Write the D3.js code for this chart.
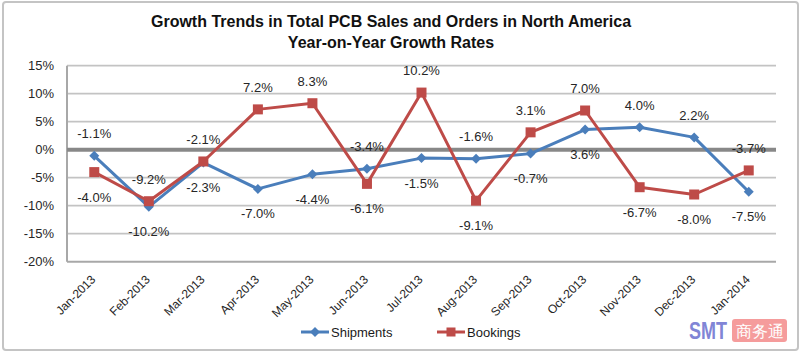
<!DOCTYPE html>
<html>
<head>
<meta charset="utf-8">
<script src="https://cdn.jsdelivr.net/npm/d3@7"></script>
<style>
  html, body { margin: 0; padding: 0; background: #fff; }
  svg { display: block; }
  text { font-family: Arial, "Liberation Sans", sans-serif; }
</style>
</head>
<body>
<svg id="chart" width="800" height="354"></svg>
<script>
// ---------- data ----------
const months = ["Jan-2013","Feb-2013","Mar-2013","Apr-2013","May-2013","Jun-2013","Jul-2013",
                "Aug-2013","Sep-2013","Oct-2013","Nov-2013","Dec-2013","Jan-2014"];
const shipments = [-1.1, -10.2, -2.3, -7.0, -4.4, -3.4, -1.5, -1.6, -0.7, 3.6, 4.0, 2.2, -7.5];
const bookings  = [-4.0, -9.2, -2.1, 7.2, 8.3, -6.1, 10.2, -9.1, 3.1, 7.0, -6.7, -8.0, -3.7];
const yTicks = [15, 10, 5, 0, -5, -10, -15, -20];
const titleLines = ["Growth Trends in Total PCB Sales and Orders in North America", "Year-on-Year Growth Rates"];
const seriesNames = ["Shipments", "Bookings"];

// ---------- layout ----------
const W = 800, H = 354;
const plot = { left: 67, right: 776, top: 65.7, bottom: 261.7 };
const colors = { Shipments: "#4a7ebb", Bookings: "#be4b48" };

const svg = d3.select("#chart");

// outer border
svg.append("rect")
  .attr("x", 3).attr("y", 2).attr("width", 795).attr("height", 348)
  .attr("rx", 3).attr("fill", "#fff").attr("stroke", "#c4c4c4").attr("stroke-width", 2);

// title
svg.append("g").selectAll("text").data(titleLines).join("text")
  .attr("x", 391).attr("y", (d, i) => 27 + i * 21)
  .attr("text-anchor", "middle")
  .attr("font-size", 16).attr("font-weight", "bold").attr("fill", "#111")
  .text(d => d);

// scales
const x = d3.scaleBand().domain(months).range([plot.left, plot.right]).padding(0);
const y = d3.scaleLinear().domain([-20, 15]).range([plot.bottom, plot.top]);
const cx = m => x(m) + x.bandwidth() / 2;

// gridlines
svg.append("g").selectAll("line").data(yTicks.filter(t => t !== 0 && t !== -20)).join("line")
  .attr("x1", plot.left).attr("x2", plot.right)
  .attr("y1", d => y(d)).attr("y2", d => y(d))
  .attr("stroke", "#c3c3c3").attr("stroke-width", 1.8);

// y axis labels
const yAxis = d3.axisLeft(y).tickValues(yTicks).tickSize(0).tickPadding(0)
  .tickFormat(d => d + "%");
const yg = svg.append("g").attr("transform", `translate(${plot.left - 13},0)`).call(yAxis);
yg.select(".domain").remove();
yg.selectAll("text").attr("font-size", 13).attr("fill", "#262626")
  .attr("font-family", "Arial, 'Liberation Sans', sans-serif");

// x axis labels
const xAxis = d3.axisBottom(x).tickSize(0).tickPadding(0);
const xg = svg.append("g").attr("transform", `translate(0,${plot.bottom})`).call(xAxis);
xg.select(".domain").remove();
xg.selectAll("text")
  .attr("font-size", 12).attr("fill", "#262626")
  .attr("font-family", "Arial, 'Liberation Sans', sans-serif")
  .attr("text-anchor", "end")
  .attr("dy", 0).attr("y", 0)
  .attr("transform", "translate(2,18.5) rotate(-45)");

// axis lines
svg.append("line").attr("x1", plot.left).attr("x2", plot.left)
  .attr("y1", plot.top).attr("y2", plot.bottom)
  .attr("stroke", "#a8a8a8").attr("stroke-width", 2);
svg.append("line").attr("x1", plot.left).attr("x2", plot.right)
  .attr("y1", plot.bottom).attr("y2", plot.bottom)
  .attr("stroke", "#a8a8a8").attr("stroke-width", 2);
// zero line
svg.append("line").attr("x1", plot.left).attr("x2", plot.right)
  .attr("y1", y(0)).attr("y2", y(0))
  .attr("stroke", "#888888").attr("stroke-width", 4);

// series
const series = [
  { name: seriesNames[0], values: shipments, marker: "diamond" },
  { name: seriesNames[1], values: bookings, marker: "square" }
];
const line = d3.line().x((d, i) => cx(months[i])).y(d => y(d));

function drawMarker(g, type, px, py, color, scale) {
  if (type === "diamond") {
    const r = 5 * (scale || 1);
    g.append("path")
      .attr("d", `M${px},${py - r}L${px + r},${py}L${px},${py + r}L${px - r},${py}Z`)
      .attr("fill", color);
  } else {
    const s = 10 * (scale || 1);
    g.append("rect").attr("x", px - s / 2).attr("y", py - s / 2)
      .attr("width", s).attr("height", s).attr("fill", color);
  }
}

series.forEach(s => {
  const g = svg.append("g");
  g.append("path").datum(s.values).attr("d", line)
    .attr("fill", "none").attr("stroke", colors[s.name]).attr("stroke-width", 3)
    .attr("stroke-linejoin", "round");
  s.values.forEach((v, i) => drawMarker(g, s.marker, cx(months[i]), y(v), colors[s.name]));
});

// data labels: higher value of the pair above, lower below
const labels = svg.append("g");
months.forEach((m, i) => {
  const a = shipments[i], b = bookings[i];
  const hi = Math.max(a, b), lo = Math.min(a, b);
  [[hi, -22], [lo, 25]].forEach(([v, off]) => {
    labels.append("text")
      .attr("x", cx(m)).attr("y", y(v) + off).attr("dy", "0.35em")
      .attr("text-anchor", "middle").attr("font-size", 13).attr("fill", "#262626")
      .text(v.toFixed(1) + "%");
  });
});

// legend
const legend = svg.append("g");
const legItems = [
  { name: seriesNames[0], x0: 301, marker: "diamond" },
  { name: seriesNames[1], x0: 437, marker: "square" }
];
legItems.forEach(it => {
  const ly = 332;
  legend.append("line").attr("x1", it.x0).attr("x2", it.x0 + 28)
    .attr("y1", ly).attr("y2", ly).attr("stroke", colors[it.name]).attr("stroke-width", 3);
  drawMarker(legend, it.marker, it.x0 + 14, ly, colors[it.name], it.marker === "square" ? 0.9 : 1);
  legend.append("text").attr("x", it.x0 + 30).attr("y", ly).attr("dy", "0.35em")
    .attr("font-size", 13).attr("fill", "#1a1a1a").text(it.name);
});

// watermark
const wm = svg.append("g");
wm.append("text").attr("x", 689).attr("y", 339)
  .attr("font-size", 24).attr("font-weight", "bold").attr("fill", "#8185d6")
  .attr("textLength", 38).attr("lengthAdjust", "spacingAndGlyphs")
  .attr("font-family", "'DejaVu Sans', Arial, sans-serif")
  .text("SMT");
wm.append("rect").attr("x", 732).attr("y", 319).attr("width", 55).attr("height", 23)
  .attr("rx", 3).attr("fill", "#f59c9c");
wm.append("text").attr("x", 759.5).attr("y", 336.5).attr("text-anchor", "middle")
  .attr("font-size", 16).attr("fill", "#ffffff")
  .attr("font-family", "'Noto Sans CJK SC', sans-serif")
  .text("商务通");
</script>
</body>
</html>
